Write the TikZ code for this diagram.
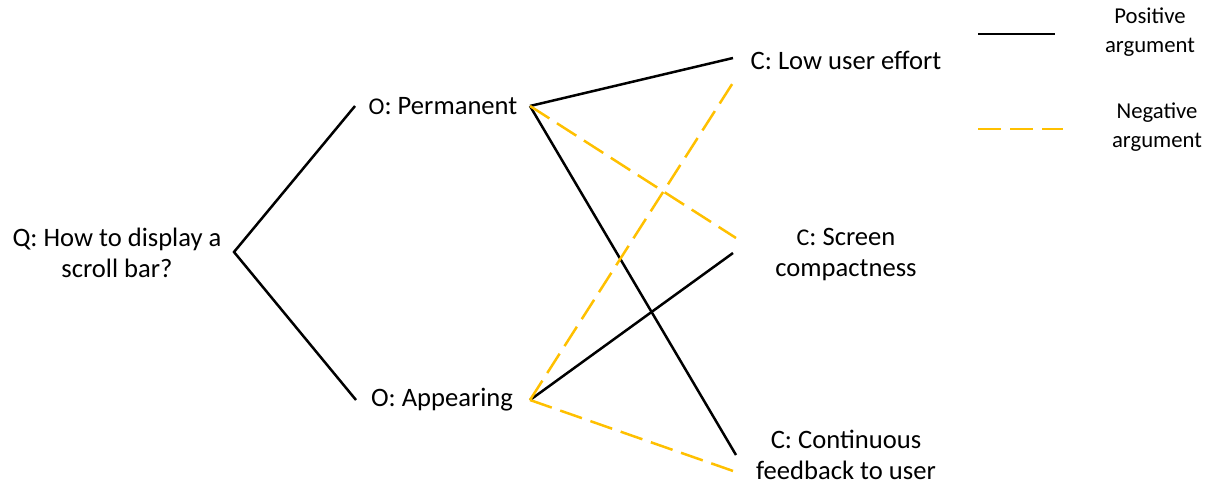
\documentclass[tikz,border=0pt]{standalone}
\usepackage{fontspec}
\setmainfont{Carlito}
\definecolor{gold}{HTML}{FFC000}
\begin{document}
\begin{tikzpicture}[x=1pt,y=-1pt,
  lbl/.style={inner sep=0pt,align=center,font=\fontsize{26.6}{31}\selectfont},
  leg/.style={inner sep=0pt,align=center,font=\fontsize{22.7}{29}\selectfont},
  posline/.style={draw=black,line width=2.5pt},
  negline/.style={draw=gold,line width=2.5pt,dash pattern=on 23pt off 9pt}]
\useasboundingbox (0,0) rectangle (1209,484);
\node[lbl] (q) at (117,253) {Q: How to display a\\scroll bar?};
\node[lbl] (perm) at (443,106) {{\fontsize{24}{31}\selectfont O}: Permanent};
\node[lbl] (app) at (442,400) {O: Appearing};
\node[lbl] (low) at (846,60) {C: Low user effort};
\node[lbl] (scr) at (846,255) {{\fontsize{24}{31}\selectfont C}: Screen\\compactness};
\node[lbl] (cont) at (846,455) {C: Continuous\\feedback to user};
\coordinate (qR) at (234,252);
\coordinate (pL) at (355,106);
\coordinate (pR) at (530,106);
\coordinate (aL) at (356,400);
\coordinate (aR) at (530,400);
\coordinate (low1) at (733,58);
\coordinate (low2) at (736,78);
\coordinate (scr1) at (736,238);
\coordinate (scr2) at (733,253);
\coordinate (cont1) at (736,455);
\coordinate (cont2) at (736,472);
\draw[posline] (pL) -- (qR) -- (aL);
\draw[posline] (pR) -- (low1);
\draw[posline] (pR) -- (cont1);
\draw[posline] (aR) -- (scr2);
\draw[negline] (pR) -- (scr1);
\draw[negline] (aR) -- (low2);
\draw[negline] (aR) -- (cont2);
% legend
\coordinate (lp1) at (978,34);
\coordinate (lp2) at (1055,34);
\coordinate (ln1) at (978,129);
\coordinate (ln2) at (1063,129);
\draw[posline] (lp1) -- (lp2);
\draw[negline] (ln1) -- (ln2);
\node[leg] (lpos) at (1150,32) {Positive\\argument};
\node[leg] (lneg) at (1157,127) {Negative\\argument};
\end{tikzpicture}
\end{document}
